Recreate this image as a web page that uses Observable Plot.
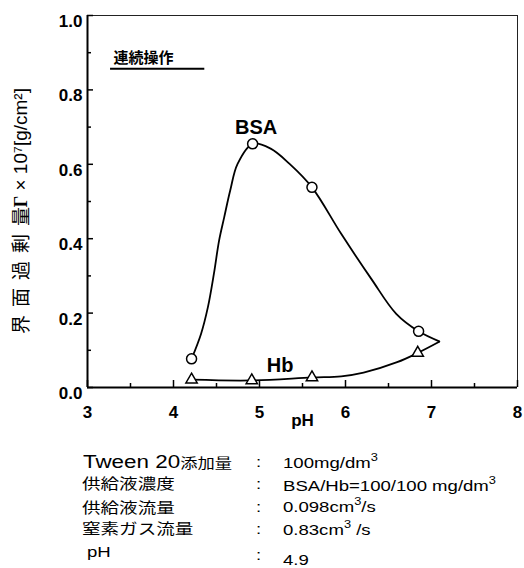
<!DOCTYPE html>
<html>
<head>
<meta charset="utf-8">
<script src="https://cdn.jsdelivr.net/npm/d3@7"></script>
<script src="https://cdn.jsdelivr.net/npm/@observablehq/plot@0.6"></script>
<style>
  body { margin: 0; background: #fff; }
  #wrap { position: relative; width: 524px; height: 568px; overflow: hidden; background: #fff; }
  #wrap svg { position: absolute; left: 0; top: 0; }
  .cell {
    position: absolute; white-space: nowrap; line-height: 20px; height: 20px;
    transform: scaleX(1.28); transform-origin: left center; color: #000;
    font-family: "Liberation Sans", Arial, sans-serif; font-size: 14.5px;
  }
  .jp { font-family: "Noto Sans CJK JP", sans-serif; font-size: 14.5px; }
  .cell sup { font-size: 10px; vertical-align: 0; position: relative; top: -7px; }
</style>
</head>
<body>
<div id="wrap"></div>
<script>
// Axis ticks
const xTicks = [3, 4, 5, 6, 7, 8];
const xMinorTicks = [3.5, 4.5, 5.5, 6.5, 7.5];
const yTicks = [0, 0.2, 0.4, 0.6, 0.8, 1.0];
const yMinorTicks = [0.1, 0.3, 0.5, 0.7, 0.9];

// Measured surface excess (x10^7 g/cm2) against pH
const bsaPH = [4.21, 4.92, 5.61, 6.85];
const bsaGamma = [0.077, 0.655, 0.538, 0.151];
const hbPH = [4.21, 4.91, 5.61, 6.84];
const hbGamma = [0.021, 0.019, 0.027, 0.093];

// Hand-drawn trend curves through the measurements
const bsaCurvePH = [4.21, 4.32, 4.40, 4.47, 4.53, 4.59, 4.66, 4.745, 4.92, 5.13, 5.35, 5.61, 5.95, 6.30, 6.59, 6.85, 7.09];
const bsaCurveGamma = [0.077, 0.144, 0.216, 0.306, 0.395, 0.458, 0.530, 0.601, 0.655, 0.642, 0.601, 0.538, 0.413, 0.292, 0.198, 0.151, 0.124];
const hbCurvePH = [4.21, 4.91, 5.61, 5.95, 6.21, 6.60, 6.84, 7.09];
const hbCurveGamma = [0.021, 0.019, 0.027, 0.030, 0.040, 0.068, 0.093, 0.123];

// Series labels and where they sit
const seriesNames = ["BSA", "Hb"];
const seriesLabelPH = [4.96, 5.24];
const seriesLabelGamma = [0.700, 0.059];

// Axis titles
const xTitle = "pH";
const yTitleKanji = "界面過剰量";
const yTitleSymbol = "Γ";
const yTitleUnit = "× 10⁷[g/cm²]";

// Operating conditions listed under the chart
const conditionLabels = ["Tween 20添加量", "供給液濃度", "供給液流量", "窒素ガス流量", "pH"];
const conditionValues = ["100mg/dm³", "BSA/Hb=100/100 mg/dm³", "0.098cm³/s", "0.83cm³ /s", "4.9"];

const pts = (xs, ys) => xs.map((x, i) => ({x, y: ys[i]}));
const bsa = pts(bsaPH, bsaGamma);
const hb = pts(hbPH, hbGamma);
const bsaCurve = pts(bsaCurvePH, bsaCurveGamma);
const hbCurve = pts(hbCurvePH, hbCurveGamma);
const seriesLabels = seriesNames.map((name, i) => ({name, x: seriesLabelPH[i], y: seriesLabelGamma[i]}));

const sans = "'Liberation Sans', Arial, Helvetica, sans-serif";
const cjk = "'Noto Sans CJK JP', sans-serif";
const tickFont = {fontFamily: sans, fontSize: 17, fontWeight: "bold", fill: "black"};

// the kanji of the vertical title are set with wide spacing: one glyph per mark,
// stepping 27px up the left margin from the bottom of the run
const kanjiMarks = Array.from(yTitleKanji).map((ch, i) =>
  Plot.text([ch], {frameAnchor: "left", rotate: -90, dx: -66, dy: 123 - 27 * i, textAnchor: "middle",
    text: d => d, fontFamily: cjk, fontSize: 19, fill: "black", ariaLabel: "stretch y-title-jp"}));

const chart = Plot.plot({
  width: 524,
  height: 440,
  marginLeft: 87,
  marginRight: 7,
  marginTop: 15,
  marginBottom: 53,
  x: {domain: [3, 8], axis: null},
  y: {domain: [0, 1], axis: null},
  style: {background: "white", color: "black", overflow: "visible"},
  marks: [
    // frame: heavy left/bottom, light top/right
    Plot.ruleY([1], {stroke: "#222", strokeWidth: 1}),
    Plot.ruleX([8], {stroke: "#222", strokeWidth: 1}),
    Plot.ruleX([3], {stroke: "black", strokeWidth: 2}),
    Plot.ruleY([0], {stroke: "black", strokeWidth: 2}),
    // inward ticks
    Plot.ruleX(xTicks, {x: d => d, y1: 0, y2: 0, insetTop: -7, stroke: "black", strokeWidth: 1.5}),
    Plot.ruleX(xMinorTicks, {x: d => d, y1: 0, y2: 0, insetTop: -4, stroke: "black", strokeWidth: 1.5}),
    Plot.ruleY(yTicks, {y: d => d, x1: 3, x2: 3, insetRight: -6, stroke: "black", strokeWidth: 1.5}),
    Plot.ruleY(yMinorTicks, {y: d => d, x1: 3, x2: 3, insetRight: -4, stroke: "black", strokeWidth: 1.5}),
    // tick labels
    Plot.text(xTicks, {x: d => d, y: 0, dy: 25, text: d => String(d), ...tickFont, ariaLabel: "stretch x-tick"}),
    Plot.text(yTicks, {x: 3, y: d => d, dx: -5, dy: 6, textAnchor: "end", text: d => d.toFixed(1), ...tickFont, ariaLabel: "stretch y-tick"}),
    // axis titles
    Plot.text([xTitle], {frameAnchor: "bottom", dy: 38, text: d => d, fontFamily: sans, fontSize: 17, fontWeight: "bold", ariaLabel: "stretch x-title"}),
    ...kanjiMarks,
    Plot.text([yTitleSymbol], {frameAnchor: "left", rotate: -90, dx: -66, dy: 0, textAnchor: "middle", text: d => d, fontFamily: "'Liberation Serif', 'Times New Roman', serif", fontSize: 18, fontWeight: "bold", ariaLabel: "stretch y-title-gamma"}),
    Plot.text([yTitleUnit], {frameAnchor: "left", rotate: -90, dx: -67, dy: -11, textAnchor: "start", text: d => d, fontFamily: sans, fontSize: 19, ariaLabel: "stretch y-title-unit"}),
    // operation mode note
    Plot.text(["連続操作"], {x: 3.303, y: 0.884, textAnchor: "start", text: d => d, fontFamily: cjk, fontSize: 15, fontWeight: "bold", ariaLabel: "stretch mode-note"}),
    Plot.ruleY([0.857], {x1: 3.268, x2: 4.364, stroke: "black", strokeWidth: 2}),
    // curves
    Plot.line(bsaCurve, {x: "x", y: "y", curve: "catmull-rom", stroke: "black", strokeWidth: 1.8}),
    Plot.line(hbCurve, {x: "x", y: "y", curve: "catmull-rom", stroke: "black", strokeWidth: 1.8}),
    // measurements
    Plot.dot(bsa, {x: "x", y: "y", r: 5, symbol: "circle", fill: "white", stroke: "black", strokeWidth: 1.5}),
    Plot.dot(hb, {x: "x", y: "y", r: 4.2, symbol: "triangle", fill: "white", stroke: "black", strokeWidth: 1.5}),
    // series names
    Plot.text(seriesLabels, {x: "x", y: "y", text: "name", fontFamily: sans, fontSize: 20, fontWeight: "bold"})
  ]
});

// widen lettering of the chart text
const stretch = 1.28;
const root = d3.select(chart);
root.selectAll('g[aria-label^="stretch"] text').each(function () {
  let t = this.getAttribute("transform");
  if (!t) {
    const x = +this.getAttribute("x") || 0, y = +this.getAttribute("y") || 0;
    this.removeAttribute("x"); this.removeAttribute("y");
    t = `translate(${x},${y})`;
  }
  this.setAttribute("transform", t.includes("rotate")
    ? t.replace("rotate", `scale(${stretch},1) rotate`)
    : `${t} scale(${stretch},1)`);
});
root.selectAll('g[aria-label="stretch y-title-unit"] text').style("letter-spacing", "2px");

const wrap = document.getElementById("wrap");
wrap.appendChild(chart);

// conditions block
const labelLeft = [83, 82, 82, 82, 87];
const labelMid = [462, 483, 507, 528, 552];
const colonMid = [462, 484, 507, 529, 555];
const valueMid = [463, 486, 507, 530, 560];

function cell(html, left, mid) {
  const d = document.createElement("div");
  d.className = "cell";
  d.style.left = left + "px";
  d.style.top = (mid - 10) + "px";
  d.innerHTML = html;
  wrap.appendChild(d);
}
const sup = s => s.replace(/³/g, "<sup>3</sup>");
const labelHtml = s => s.replace(/^([A-Za-z0-9 ]+)(?=[^\x00-\x7F])/, '<span style="font-size:17.5px">$1</span>')
  .replace(/([^\x00-\x7F]+)/g, '<span class="jp">$1</span>');

conditionLabels.forEach((lab, i) => {
  let html = labelHtml(lab);
  if (i === 0) html = html.replace('class="jp"', 'class="jp" style="font-size:13.5px"');
  cell(html, labelLeft[i], labelMid[i]);
  cell(":", 256, colonMid[i]);
  cell(sup(conditionValues[i]), 283, valueMid[i]);
});
</script>
</body>
</html>
